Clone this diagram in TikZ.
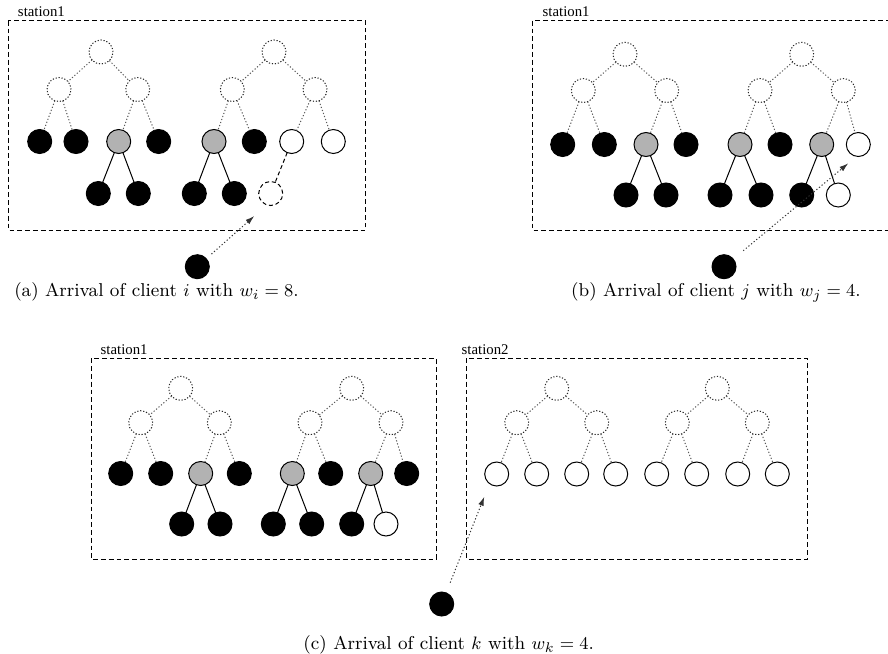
\documentclass[tikz,border=0pt]{standalone}
\usepackage{fontspec}
\newfontfamily\labelfont{Liberation Serif}
\usetikzlibrary{arrows.meta}
\definecolor{busy}{gray}{0.7}

% edges of the virtual (dotted) upper part of one tree
\newcommand{\virtualedges}[1]{%
  \draw[tedge] (#1r) -- (#1m1) (#1r) -- (#1m2)
    (#1m1) -- (#1l1) (#1m1) -- (#1l2)
    (#1m2) -- (#1l3) (#1m2) -- (#1l4);}
% root and the two middle virtual nodes of one tree
\newcommand{\virtualtop}[6]{%
  \node[virt] (#1r) at (#2,#5) {};
  \node[virt] (#1m1) at (#3,#6) {};
  \node[virt] (#1m2) at (#4,#6) {};}

\begin{document}
\begin{tikzpicture}[x=0.5pt,y=-0.5pt,
  every node/.style={inner sep=0pt, outer sep=0pt},
  slot/.style={circle, minimum size=12pt, line width=0.5pt},
  full/.style={slot, fill=black, draw=black},
  split/.style={slot, fill=busy, draw=black},
  free/.style={slot, fill=white, draw=black},
  virt/.style={slot, draw=black!85, dash pattern=on 0.6pt off 0.9pt},
  hole/.style={slot, draw=black, dash pattern=on 2pt off 1.4pt},
  tedge/.style={draw=black!65, line width=0.5pt, dash pattern=on 0.6pt off 1pt},
  cedge/.style={draw=black, line width=0.5pt},
  hedge/.style={draw=black, line width=0.5pt, dash pattern=on 2pt off 1.4pt},
  station/.style={draw=black, line width=0.5pt, dash pattern=on 2.4pt off 1.5pt},
  arrival/.style={draw=black!80, line width=0.5pt, dash pattern=on 0.6pt off 1.1pt,
    -{Latex[length=4.5pt,width=2.8pt]}},
  stname/.style={anchor=base west, font=\labelfont\fontsize{7.4}{8}\selectfont},
  caption/.style={anchor=base, font=\fontsize{9.3}{11}\selectfont}
]
\useasboundingbox (0,0) rectangle (888,653);
\clip (0,0) rectangle (888,653);

% ---------------- (a) ----------------
\draw[station] (8.3,20.7) rectangle (365.7,230);
\node[stname] (sta) at (18,16.5) {station1};

\virtualtop{a1}{101}{59}{137.7}{52}{89.5}
\node[full]  (a1l1) at (39.7,141.5) {};
\node[full]  (a1l2) at (76,141.5) {};
\node[split] (a1l3) at (118.7,141.5) {};
\node[full]  (a1l4) at (158.7,141.5) {};
\node[full]  (a1c1) at (98.3,193.5) {};
\node[full]  (a1c2) at (138.3,193.5) {};
\virtualedges{a1}
\draw[cedge] (a1l3) -- (a1c1) (a1l3) -- (a1c2);

\virtualtop{a2}{274}{232.3}{315}{52}{89.5}
\node[split] (a2l1) at (214,141.5) {};
\node[full]  (a2l2) at (254.3,141.5) {};
\node[free]  (a2l3) at (291.7,141.5) {};
\node[free]  (a2l4) at (333.3,141.5) {};
\node[full]  (a2c1) at (194.3,193.5) {};
\node[full]  (a2c2) at (234.3,193.5) {};
\node[hole]  (a2h)  at (270.7,193.5) {};
\virtualedges{a2}
\draw[cedge] (a2l1) -- (a2c1) (a2l1) -- (a2c2);
\draw[hedge] (a2l3) -- (a2h);

\node[full] (balli) at (197.3,266.7) {};
\coordinate (tipi) at (254.3,216);
\draw[arrival, shorten <=3.5pt] (balli) -- (tipi);
\node[caption] (capa) at (156.5,296.7) {(a) Arrival of client $i$ with $w_i = 8$.};

% ---------------- (b) ----------------
\draw[station] (532.3,20.7) rectangle (900,230);
\node[stname] (stb) at (542.7,16.5) {station1};

\virtualtop{b1}{625}{583.3}{666.7}{54.3}{90.5}
\node[full]  (b1l1) at (562.7,144.5) {};
\node[full]  (b1l2) at (604.3,144.5) {};
\node[split] (b1l3) at (646,144.5) {};
\node[full]  (b1l4) at (686,144.5) {};
\node[full]  (b1c1) at (626,195) {};
\node[full]  (b1c2) at (666,195) {};
\virtualedges{b1}
\draw[cedge] (b1l3) -- (b1c1) (b1l3) -- (b1c2);

\virtualtop{b2}{801.7}{760}{843.3}{54.3}{90.5}
\node[split] (b2l1) at (740,144.5) {};
\node[full]  (b2l2) at (780,144.5) {};
\node[split] (b2l3) at (821.7,144.5) {};
\node[free]  (b2l4) at (858.3,144.5) {};
\node[full]  (b2c1) at (720,195) {};
\node[full]  (b2c2) at (761,195) {};
\node[full]  (b2c3) at (801.7,195) {};
\node[free]  (b2c4) at (838.3,195) {};
\virtualedges{b2}
\draw[cedge] (b2l1) -- (b2c1) (b2l1) -- (b2c2);
\draw[cedge] (b2l3) -- (b2c3) (b2l3) -- (b2c4);

\node[full] (ballj) at (724,266.7) {};
\coordinate (tipj) at (848.3,163.3);
\draw[arrival, shorten <=6.5pt] (ballj) -- (tipj);
\node[caption] (capb) at (716,296.7) {(b) Arrival of client $j$ with $w_j = 4$.};

% ---------------- (c) ----------------
\draw[station] (91,358.3) rectangle (436.3,559);
\draw[station] (466.7,358.3) rectangle (807.7,559);
\node[stname] (stc1) at (100.7,354) {station1};
\node[stname] (stc2) at (461.7,354) {station2};

\virtualtop{c1}{180.7}{140.7}{219.3}{388.3}{422.7}
\node[full]  (c1l1) at (120.7,473.5) {};
\node[full]  (c1l2) at (160.7,473.5) {};
\node[split] (c1l3) at (200.7,473.5) {};
\node[full]  (c1l4) at (239.3,473.5) {};
\node[full]  (c1c1) at (181.7,524) {};
\node[full]  (c1c2) at (220,524) {};
\virtualedges{c1}
\draw[cedge] (c1l3) -- (c1c1) (c1l3) -- (c1c2);

\virtualtop{c2}{351.7}{310}{391}{388.3}{422.7}
\node[split] (c2l1) at (292.3,473.5) {};
\node[full]  (c2l2) at (330.7,473.5) {};
\node[split] (c2l3) at (370.7,473.5) {};
\node[full]  (c2l4) at (406.7,473.5) {};
\node[full]  (c2c1) at (273.3,524) {};
\node[full]  (c2c2) at (311.7,524) {};
\node[full]  (c2c3) at (351.7,524) {};
\node[free]  (c2c4) at (386,524) {};
\virtualedges{c2}
\draw[cedge] (c2l1) -- (c2c1) (c2l1) -- (c2c2);
\draw[cedge] (c2l3) -- (c2c3) (c2l3) -- (c2c4);

\virtualtop{c3}{556.7}{516.7}{596.7}{388.3}{422.7}
\node[free] (c3l1) at (496.7,474) {};
\node[free] (c3l2) at (536.7,474) {};
\node[free] (c3l3) at (576.7,474) {};
\node[free] (c3l4) at (615.7,474) {};
\virtualedges{c3}

\virtualtop{c4}{717.3}{677.3}{757.3}{388.3}{422.7}
\node[free] (c4l1) at (656.7,474) {};
\node[free] (c4l2) at (696.7,474) {};
\node[free] (c4l3) at (737.7,474) {};
\node[free] (c4l4) at (777.3,474) {};
\virtualedges{c4}

\node[full] (ballk) at (441.7,604) {};
\coordinate (tipk) at (484.3,496.7);
\draw[arrival, shorten <=5.5pt] (ballk) -- (tipk);
\node[caption] (capc) at (448.7,649.3) {(c) Arrival of client $k$ with $w_k = 4$.};
\end{tikzpicture}
\end{document}
